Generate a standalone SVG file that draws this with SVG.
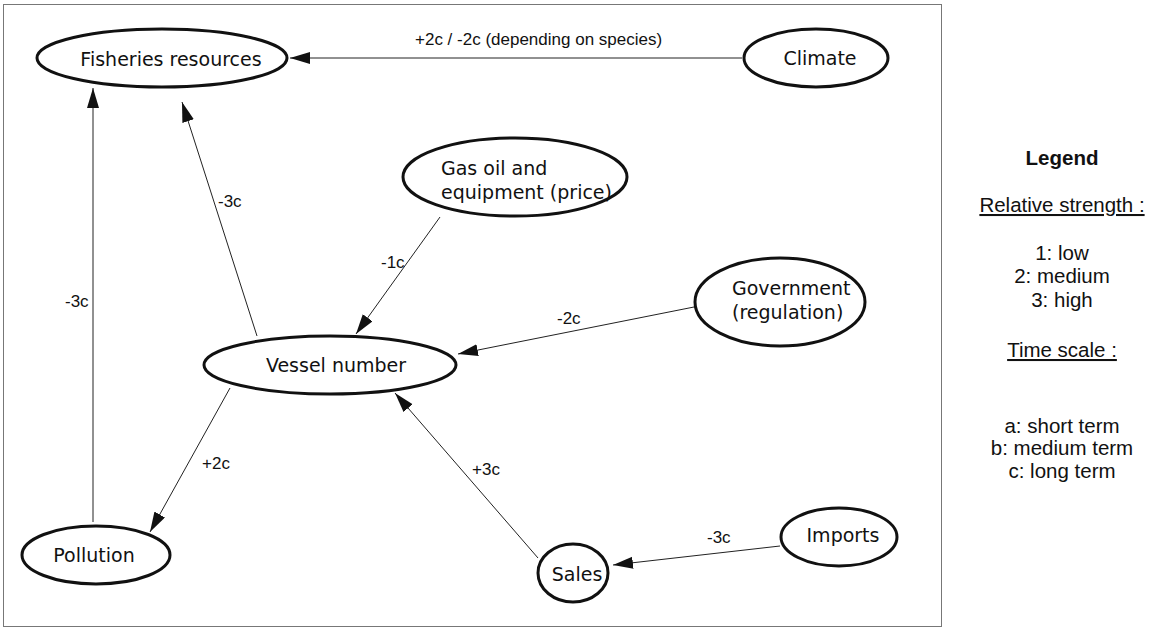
<svg xmlns="http://www.w3.org/2000/svg" width="1155" height="628" viewBox="0 0 1155 628">
<style>
.node ellipse{fill:#fff;stroke:#111;stroke-width:3}
.node text{font-family:"DejaVu Sans",Verdana,sans-serif;font-size:19px;fill:#111}
.c{text-anchor:middle}
.edge{stroke:#222;stroke-width:1;fill:none;marker-end:url(#arr)}
.lbl{font-family:"Liberation Sans",Arial,sans-serif;font-size:17px;fill:#111}
.leg{font-family:"Liberation Sans",Arial,sans-serif;font-size:20.5px;fill:#111;text-anchor:middle}
</style>
<defs>
<marker id="arr" markerUnits="userSpaceOnUse" markerWidth="22" markerHeight="14" refX="20" refY="6" orient="auto">
<path d="M0,0 L20,6 L0,12 Z" fill="#111"/>
</marker>
</defs>
<rect x="3.5" y="4.5" width="938" height="622" fill="#fff" stroke="#777" stroke-width="1"/>
<g id="connectors">
<line class="edge" x1="742" y1="58" x2="290" y2="58"/>
<line class="edge" x1="257" y1="336" x2="182" y2="102"/>
<line class="edge" x1="93" y1="522" x2="93" y2="88"/>
<line class="edge" x1="440" y1="217" x2="356" y2="334"/>
<line class="edge" x1="694" y1="307" x2="458" y2="354"/>
<line class="edge" x1="230" y1="388" x2="150" y2="532"/>
<line class="edge" x1="538" y1="558" x2="395" y2="393"/>
<line class="edge" x1="780" y1="546" x2="613" y2="565"/>
<text class="lbl" x="415" y="45">+2c / -2c (depending on species)</text>
<text class="lbl" x="218" y="207">-3c</text>
<text class="lbl" x="65" y="307">-3c</text>
<text class="lbl" x="381" y="268">-1c</text>
<text class="lbl" x="557" y="324">-2c</text>
<text class="lbl" x="202" y="469">+2c</text>
<text class="lbl" x="472" y="475">+3c</text>
<text class="lbl" x="707" y="543">-3c</text>
</g>
<g id="fisheries" class="node"><ellipse cx="162" cy="58" rx="125" ry="29"/><text class="c" x="171" y="66">Fisheries resources</text></g>
<g id="climate" class="node"><ellipse cx="816" cy="58" rx="72" ry="29"/><text class="c" x="820" y="65">Climate</text></g>
<g id="gasoil" class="node"><ellipse cx="515" cy="177" rx="112" ry="39"/><text x="441" y="175">Gas oil and</text><text x="441" y="199">equipment (price)</text></g>
<g id="government" class="node"><ellipse cx="780" cy="302" rx="85" ry="44"/><text x="732" y="295">Government</text><text x="732" y="319">(regulation)</text></g>
<g id="vessel" class="node"><ellipse cx="330" cy="365" rx="126" ry="29"/><text class="c" x="336" y="372">Vessel number</text></g>
<g id="pollution" class="node"><ellipse cx="96" cy="555" rx="74" ry="29"/><text class="c" x="94" y="562">Pollution</text></g>
<g id="sales" class="node"><ellipse cx="573" cy="573" rx="35" ry="29"/><text class="c" x="577" y="581">Sales</text></g>
<g id="imports" class="node"><ellipse cx="839" cy="537" rx="58" ry="29"/><text class="c" x="843" y="542">Imports</text></g>
<g id="legend">
<text class="leg" x="1062" y="165" font-weight="bold">Legend</text>
<text class="leg" x="1062" y="212" text-decoration="underline">Relative strength :</text>
<text class="leg" x="1062" y="260">1: low</text>
<text class="leg" x="1062" y="283">2: medium</text>
<text class="leg" x="1062" y="307">3: high</text>
<text class="leg" x="1062" y="357" text-decoration="underline">Time scale :</text>
<text class="leg" x="1062" y="433">a: short term</text>
<text class="leg" x="1062" y="455">b: medium term</text>
<text class="leg" x="1062" y="478">c: long term</text>
</g>
</svg>
